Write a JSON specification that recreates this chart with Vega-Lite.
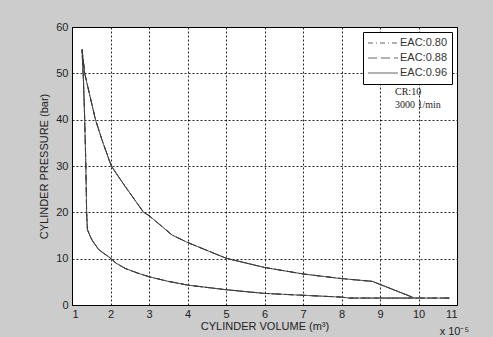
{
  "$schema": "https://vega.github.io/schema/vega-lite/v6.json",
  "width": 385,
  "height": 278,
  "autosize": {"type": "none"},
  "padding": {"left": 72, "top": 27, "right": 36, "bottom": 32},
  "background": "#cccccc",
  "config": {
    "view": {"fill": "white", "stroke": "black", "strokeWidth": 1},
    "font": "Liberation Sans",
    "axis": {
      "labelFont": "Liberation Sans",
      "labelFontSize": 11,
      "labelColor": "#222222",
      "labelOverlap": false,
      "titleFont": "Liberation Sans",
      "titleFontSize": 11,
      "titleFontWeight": "normal",
      "titleColor": "#222222",
      "ticks": false,
      "domain": false,
      "grid": true,
      "gridColor": "black",
      "gridDash": [2, 2],
      "gridOpacity": 0.85,
      "gridWidth": 1
    }
  },
  "datasets": {
    "cycle": [
      {"eac": "EAC:0.80", "ord": 1, "v": 10.8, "p": 1.5},
      {"eac": "EAC:0.80", "ord": 2, "v": 9.5, "p": 1.5},
      {"eac": "EAC:0.80", "ord": 3, "v": 8.2, "p": 1.5},
      {"eac": "EAC:0.80", "ord": 4, "v": 8.0, "p": 1.7},
      {"eac": "EAC:0.80", "ord": 5, "v": 7.0, "p": 2.1},
      {"eac": "EAC:0.80", "ord": 6, "v": 6.0, "p": 2.5},
      {"eac": "EAC:0.80", "ord": 7, "v": 5.0, "p": 3.3},
      {"eac": "EAC:0.80", "ord": 8, "v": 4.0, "p": 4.3},
      {"eac": "EAC:0.80", "ord": 9, "v": 3.5, "p": 5.1},
      {"eac": "EAC:0.80", "ord": 10, "v": 3.0, "p": 6.1},
      {"eac": "EAC:0.80", "ord": 11, "v": 2.7, "p": 6.9},
      {"eac": "EAC:0.80", "ord": 12, "v": 2.38, "p": 7.9},
      {"eac": "EAC:0.80", "ord": 13, "v": 2.15, "p": 9.0},
      {"eac": "EAC:0.80", "ord": 14, "v": 1.97, "p": 10.3},
      {"eac": "EAC:0.80", "ord": 15, "v": 1.8, "p": 11.3},
      {"eac": "EAC:0.80", "ord": 16, "v": 1.69, "p": 12.0},
      {"eac": "EAC:0.80", "ord": 17, "v": 1.52, "p": 14.0},
      {"eac": "EAC:0.80", "ord": 18, "v": 1.45, "p": 15.3},
      {"eac": "EAC:0.80", "ord": 19, "v": 1.4, "p": 16.3},
      {"eac": "EAC:0.80", "ord": 20, "v": 1.38, "p": 20},
      {"eac": "EAC:0.80", "ord": 21, "v": 1.36, "p": 30},
      {"eac": "EAC:0.80", "ord": 22, "v": 1.33, "p": 40},
      {"eac": "EAC:0.80", "ord": 23, "v": 1.3, "p": 48},
      {"eac": "EAC:0.80", "ord": 24, "v": 1.26, "p": 55.0},
      {"eac": "EAC:0.80", "ord": 25, "v": 1.29, "p": 53},
      {"eac": "EAC:0.80", "ord": 26, "v": 1.33, "p": 50},
      {"eac": "EAC:0.80", "ord": 27, "v": 1.43, "p": 46.4},
      {"eac": "EAC:0.80", "ord": 28, "v": 1.61, "p": 40},
      {"eac": "EAC:0.80", "ord": 29, "v": 1.78, "p": 35.6},
      {"eac": "EAC:0.80", "ord": 30, "v": 2.02, "p": 30},
      {"eac": "EAC:0.80", "ord": 31, "v": 2.38, "p": 25.6},
      {"eac": "EAC:0.80", "ord": 32, "v": 2.86, "p": 20},
      {"eac": "EAC:0.80", "ord": 33, "v": 3.0, "p": 19.3},
      {"eac": "EAC:0.80", "ord": 34, "v": 3.6, "p": 15.1},
      {"eac": "EAC:0.80", "ord": 35, "v": 4.0, "p": 13.5},
      {"eac": "EAC:0.80", "ord": 36, "v": 5.0, "p": 10.1},
      {"eac": "EAC:0.80", "ord": 37, "v": 6.0, "p": 8.1},
      {"eac": "EAC:0.80", "ord": 38, "v": 7.0, "p": 6.7},
      {"eac": "EAC:0.80", "ord": 39, "v": 8.0, "p": 5.7},
      {"eac": "EAC:0.80", "ord": 40, "v": 8.8, "p": 5.1},
      {"eac": "EAC:0.80", "ord": 41, "v": 9.87, "p": 1.6},
      {"eac": "EAC:0.88", "ord": 1, "v": 10.8, "p": 1.5},
      {"eac": "EAC:0.88", "ord": 2, "v": 9.5, "p": 1.5},
      {"eac": "EAC:0.88", "ord": 3, "v": 8.2, "p": 1.5},
      {"eac": "EAC:0.88", "ord": 4, "v": 8.0, "p": 1.7},
      {"eac": "EAC:0.88", "ord": 5, "v": 7.0, "p": 2.1},
      {"eac": "EAC:0.88", "ord": 6, "v": 6.0, "p": 2.5},
      {"eac": "EAC:0.88", "ord": 7, "v": 5.0, "p": 3.3},
      {"eac": "EAC:0.88", "ord": 8, "v": 4.0, "p": 4.3},
      {"eac": "EAC:0.88", "ord": 9, "v": 3.5, "p": 5.1},
      {"eac": "EAC:0.88", "ord": 10, "v": 3.0, "p": 6.1},
      {"eac": "EAC:0.88", "ord": 11, "v": 2.7, "p": 6.9},
      {"eac": "EAC:0.88", "ord": 12, "v": 2.38, "p": 7.9},
      {"eac": "EAC:0.88", "ord": 13, "v": 2.15, "p": 9.0},
      {"eac": "EAC:0.88", "ord": 14, "v": 1.97, "p": 10.3},
      {"eac": "EAC:0.88", "ord": 15, "v": 1.8, "p": 11.3},
      {"eac": "EAC:0.88", "ord": 16, "v": 1.69, "p": 12.0},
      {"eac": "EAC:0.88", "ord": 17, "v": 1.52, "p": 14.0},
      {"eac": "EAC:0.88", "ord": 18, "v": 1.45, "p": 15.3},
      {"eac": "EAC:0.88", "ord": 19, "v": 1.4, "p": 16.3},
      {"eac": "EAC:0.88", "ord": 20, "v": 1.38, "p": 20},
      {"eac": "EAC:0.88", "ord": 21, "v": 1.36, "p": 30},
      {"eac": "EAC:0.88", "ord": 22, "v": 1.33, "p": 40},
      {"eac": "EAC:0.88", "ord": 23, "v": 1.3, "p": 48},
      {"eac": "EAC:0.88", "ord": 24, "v": 1.26, "p": 55.1},
      {"eac": "EAC:0.88", "ord": 25, "v": 1.29, "p": 53},
      {"eac": "EAC:0.88", "ord": 26, "v": 1.33, "p": 50},
      {"eac": "EAC:0.88", "ord": 27, "v": 1.43, "p": 46.4},
      {"eac": "EAC:0.88", "ord": 28, "v": 1.61, "p": 40},
      {"eac": "EAC:0.88", "ord": 29, "v": 1.78, "p": 35.6},
      {"eac": "EAC:0.88", "ord": 30, "v": 2.02, "p": 30},
      {"eac": "EAC:0.88", "ord": 31, "v": 2.38, "p": 25.6},
      {"eac": "EAC:0.88", "ord": 32, "v": 2.86, "p": 20},
      {"eac": "EAC:0.88", "ord": 33, "v": 3.0, "p": 19.3},
      {"eac": "EAC:0.88", "ord": 34, "v": 3.6, "p": 15.1},
      {"eac": "EAC:0.88", "ord": 35, "v": 4.0, "p": 13.5},
      {"eac": "EAC:0.88", "ord": 36, "v": 5.0, "p": 10.1},
      {"eac": "EAC:0.88", "ord": 37, "v": 6.0, "p": 8.1},
      {"eac": "EAC:0.88", "ord": 38, "v": 7.0, "p": 6.7},
      {"eac": "EAC:0.88", "ord": 39, "v": 8.0, "p": 5.7},
      {"eac": "EAC:0.88", "ord": 40, "v": 8.8, "p": 5.1},
      {"eac": "EAC:0.88", "ord": 41, "v": 9.87, "p": 1.6},
      {"eac": "EAC:0.96", "ord": 1, "v": 10.8, "p": 1.5},
      {"eac": "EAC:0.96", "ord": 2, "v": 9.5, "p": 1.5},
      {"eac": "EAC:0.96", "ord": 3, "v": 8.2, "p": 1.5},
      {"eac": "EAC:0.96", "ord": 4, "v": 8.0, "p": 1.7},
      {"eac": "EAC:0.96", "ord": 5, "v": 7.0, "p": 2.1},
      {"eac": "EAC:0.96", "ord": 6, "v": 6.0, "p": 2.5},
      {"eac": "EAC:0.96", "ord": 7, "v": 5.0, "p": 3.3},
      {"eac": "EAC:0.96", "ord": 8, "v": 4.0, "p": 4.3},
      {"eac": "EAC:0.96", "ord": 9, "v": 3.5, "p": 5.1},
      {"eac": "EAC:0.96", "ord": 10, "v": 3.0, "p": 6.1},
      {"eac": "EAC:0.96", "ord": 11, "v": 2.7, "p": 6.9},
      {"eac": "EAC:0.96", "ord": 12, "v": 2.38, "p": 7.9},
      {"eac": "EAC:0.96", "ord": 13, "v": 2.15, "p": 9.0},
      {"eac": "EAC:0.96", "ord": 14, "v": 1.97, "p": 10.3},
      {"eac": "EAC:0.96", "ord": 15, "v": 1.8, "p": 11.3},
      {"eac": "EAC:0.96", "ord": 16, "v": 1.69, "p": 12.0},
      {"eac": "EAC:0.96", "ord": 17, "v": 1.52, "p": 14.0},
      {"eac": "EAC:0.96", "ord": 18, "v": 1.45, "p": 15.3},
      {"eac": "EAC:0.96", "ord": 19, "v": 1.4, "p": 16.3},
      {"eac": "EAC:0.96", "ord": 20, "v": 1.38, "p": 20},
      {"eac": "EAC:0.96", "ord": 21, "v": 1.36, "p": 30},
      {"eac": "EAC:0.96", "ord": 22, "v": 1.33, "p": 40},
      {"eac": "EAC:0.96", "ord": 23, "v": 1.3, "p": 48},
      {"eac": "EAC:0.96", "ord": 24, "v": 1.26, "p": 55.2},
      {"eac": "EAC:0.96", "ord": 25, "v": 1.29, "p": 53},
      {"eac": "EAC:0.96", "ord": 26, "v": 1.33, "p": 50},
      {"eac": "EAC:0.96", "ord": 27, "v": 1.43, "p": 46.4},
      {"eac": "EAC:0.96", "ord": 28, "v": 1.61, "p": 40},
      {"eac": "EAC:0.96", "ord": 29, "v": 1.78, "p": 35.6},
      {"eac": "EAC:0.96", "ord": 30, "v": 2.02, "p": 30},
      {"eac": "EAC:0.96", "ord": 31, "v": 2.38, "p": 25.6},
      {"eac": "EAC:0.96", "ord": 32, "v": 2.86, "p": 20},
      {"eac": "EAC:0.96", "ord": 33, "v": 3.0, "p": 19.3},
      {"eac": "EAC:0.96", "ord": 34, "v": 3.6, "p": 15.1},
      {"eac": "EAC:0.96", "ord": 35, "v": 4.0, "p": 13.5},
      {"eac": "EAC:0.96", "ord": 36, "v": 5.0, "p": 10.1},
      {"eac": "EAC:0.96", "ord": 37, "v": 6.0, "p": 8.1},
      {"eac": "EAC:0.96", "ord": 38, "v": 7.0, "p": 6.7},
      {"eac": "EAC:0.96", "ord": 39, "v": 8.0, "p": 5.7},
      {"eac": "EAC:0.96", "ord": 40, "v": 8.8, "p": 5.1},
      {"eac": "EAC:0.96", "ord": 41, "v": 9.87, "p": 1.6}
    ],
    "notes": [
      {"label": "CR:10", "v": 9.39, "p": 45.9},
      {"label": "3000 1/min", "v": 9.39, "p": 43.2}
    ]
  },
  "layer": [
    {
      "data": {"name": "cycle"},
      "mark": {"type": "line", "strokeWidth": 1, "color": "#3a3a3a", "clip": true},
      "encoding": {
        "x": {
          "field": "v", "type": "quantitative",
          "scale": {"domain": [1, 11], "nice": false, "zero": false},
          "axis": {"values": [1,2,3,4,5,6,7,8,9,10,11], "tickCount": 20, "format": "d", "title": "CYLINDER VOLUME (m³)", "labelPadding": 3, "titlePadding": 1}
        },
        "y": {
          "field": "p", "type": "quantitative",
          "scale": {"domain": [0, 60], "nice": false},
          "axis": {"values": [0,10,20,30,40,50,60], "tickCount": 12, "format": "d", "title": "CYLINDER PRESSURE (bar)", "labelPadding": 4, "titlePadding": 6}
        },
        "order": {"field": "ord"},
        "detail": {"field": "eac"},
        "strokeDash": {
          "field": "eac", "type": "nominal",
          "scale": {"domain": ["EAC:0.80", "EAC:0.88", "EAC:0.96"], "range": [[5, 3, 1, 3], [9, 4], [1, 0]]},
          "legend": {
            "title": null,
            "orient": "top-right",
            "offset": 5,
            "padding": 4,
            "fillColor": "white",
            "strokeColor": "black",
            "cornerRadius": 0,
            "symbolType": "stroke",
            "symbolSize": 900,
            "clipHeight": 14,
            "symbolStrokeWidth": 1.2,
            "symbolStrokeColor": "#666666",
            "labelFont": "Liberation Sans",
            "labelFontSize": 11,
            "labelColor": "#333333",
            "labelOffset": 1,
            "rowPadding": 1
          }
        }
      }
    },
    {
      "data": {"name": "notes"},
      "mark": {"type": "text", "align": "left", "baseline": "middle", "font": "Liberation Serif", "fontSize": 10, "color": "#222222"},
      "encoding": {
        "x": {"field": "v", "type": "quantitative"},
        "y": {"field": "p", "type": "quantitative"},
        "text": {"field": "label"}
      }
    },
    {
      "data": {"values": [{"label": "x 10⁻⁵"}]},
      "mark": {"type": "text", "align": "left", "baseline": "middle", "font": "Liberation Sans", "fontSize": 11, "color": "#222222", "clip": false},
      "encoding": {
        "x": {"datum": 10.55},
        "y": {"datum": -5.9},
        "text": {"field": "label"}
      }
    }
  ]
}
